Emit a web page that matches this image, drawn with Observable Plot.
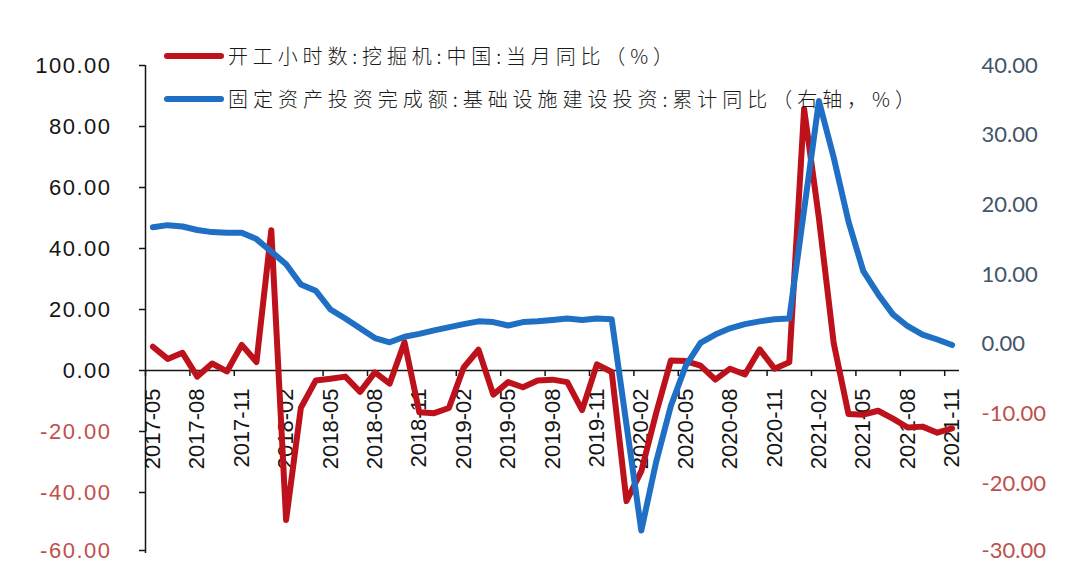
<!DOCTYPE html>
<html><head><meta charset="utf-8">
<script src="https://cdn.jsdelivr.net/npm/d3@7"></script>
<script src="https://cdn.jsdelivr.net/npm/@observablehq/plot@0.6"></script>
<style>
html,body{margin:0;padding:0;background:#fff;}
#wrap{position:relative;width:1080px;height:563px;overflow:hidden;background:#fff;}
</style></head><body>
<div id="wrap"></div>
<script>
const months = ["2017-05","2017-06","2017-07","2017-08","2017-09","2017-10","2017-11","2017-12",
"2018-01","2018-02","2018-03","2018-04","2018-05","2018-06","2018-07","2018-08","2018-09","2018-10","2018-11","2018-12",
"2019-01","2019-02","2019-03","2019-04","2019-05","2019-06","2019-07","2019-08","2019-09","2019-10","2019-11","2019-12",
"2020-01","2020-02","2020-03","2020-04","2020-05","2020-06","2020-07","2020-08","2020-09","2020-10","2020-11","2020-12",
"2021-01","2021-02","2021-03","2021-04","2021-05","2021-06","2021-07","2021-08","2021-09","2021-10","2021-11"];

const tickLabels = ["2017-05","2017-08","2017-11","2018-02","2018-05","2018-08","2018-11","2019-02","2019-05","2019-08",
"2019-11","2020-02","2020-05","2020-08","2020-11","2021-02","2021-05","2021-08","2021-11"];

// 开工小时数:挖掘机:中国:当月同比 (%) — left axis
const excavatorHours = [7.8,3.8,5.8,-2.0,2.3,-0.3,8.4,2.8,
46.0,-49.0,-12.2,-3.3,-2.7,-2.0,-7.0,-0.6,-4.3,9.3,-13.7,-14.0,
-12.3,1.0,6.8,-7.9,-3.8,-5.5,-3.3,-3.0,-3.8,-13.0,2.0,-0.5,
-42.8,-33.0,-14.0,3.3,3.1,1.6,-3.0,0.6,-1.3,6.9,0.6,2.7,
85.8,50.0,9.0,-14.3,-14.5,-13.2,-15.8,-18.7,-18.4,-20.4,-19.0];

// 固定资产投资完成额:基础设施建设投资:累计同比 (右轴, %) — January not published
const infraInvest = [16.8,17.1,16.9,16.4,16.1,16.0,16.0,15.1,
null,11.5,8.6,7.7,5.0,3.7,2.3,0.9,0.3,1.1,1.5,2.0,
null,2.9,3.3,3.2,2.7,3.2,3.3,3.5,3.7,3.5,3.7,3.6,
null,-26.7,-16.9,-8.8,-3.1,0.2,1.4,2.3,2.9,3.3,3.6,3.7,
null,34.9,26.8,17.6,10.5,7.2,4.3,2.6,1.4,0.7,-0.1];

const leftTicks = [-60,-40,-20,0,20,40,60,80,100];
const rightTicks = [-30,-20,-10,0,10,20,30,40];
const legendLabels = ["开工小时数:挖掘机:中国:当月同比（%）","固定资产投资完成额:基础设施建设投资:累计同比（右轴，%）"];

const RED = "#bd121c", BLUE = "#1f6fc4", NEG = "#c0504d", INK = "#151515";
const toLeft = d3.scaleLinear([-30, 40], [-60, 100]);
const rows = months.map((m, i) => ({i, month: m, red: excavatorHours[i], blue: infraInvest[i]}));
const blueRows = rows.filter(d => d.blue != null);
const tickRows = tickLabels.map(t => ({i: months.indexOf(t), label: t}));
const fmtRight = d => (Math.round(toLeft.invert(d) * 100) / 100).toFixed(2);
const leftMin = leftTicks[0], rightMin = rightTicks[0];

const leftOpts = {anchor: "left", tickSize: 6, tickPadding: 28, tickFormat: d => d.toFixed(2),
  fontSize: 22, stroke: INK, strokeWidth: 1.5, label: null};
const rightOpts = {anchor: "right", tickSize: 0, tickPadding: 22, tickFormat: fmtRight,
  fontSize: 22, fontFamily: "Lato, 'Open Sans', sans-serif", label: null};

const plot = Plot.plot({
  width: 1080, height: 563,
  marginLeft: 145, marginRight: 121, marginTop: 65, marginBottom: 10,
  style: {fontFamily: "'Liberation Sans', Arial, sans-serif", background: "#fff", overflow: "visible"},
  x: {domain: [-0.5, months.length - 0.5], axis: null},
  y: {domain: [-60, 100], axis: null},
  marks: [
    Plot.axisY(leftTicks.filter(v => v >= 0), {...leftOpts, fill: INK}),
    Plot.axisY(leftTicks.filter(v => v < 0 && v > leftMin), {...leftOpts, fill: NEG}),
    Plot.axisY([leftMin], {...leftOpts, fill: NEG, dy: -3}),
    Plot.axisY(rightTicks.filter(v => v >= 0).map(toLeft), {...rightOpts, fill: "#44546a"}),
    Plot.axisY(rightTicks.filter(v => v < 0 && v > rightMin).map(toLeft), {...rightOpts, fill: NEG}),
    Plot.axisY([toLeft(rightMin)], {...rightOpts, fill: NEG, dy: -3}),
    Plot.ruleX([-0.5], {stroke: INK, strokeWidth: 1.5}),
    Plot.text(tickRows, {x: "i", y: 0, text: "label", rotate: -90, textAnchor: "end", dy: 18, fontSize: 22, fill: INK}),
    Plot.ruleX(tickRows, {x: d => d.i - 0.5, y1: 0, y2: 0, insetBottom: -6, stroke: INK, strokeWidth: 1.5}),
    Plot.ruleY([0], {stroke: INK, strokeWidth: 1.5}),
    Plot.line(rows, {x: "i", y: "red", stroke: RED, strokeWidth: 6, strokeLinejoin: "round", strokeLinecap: "round"}),
    Plot.line(blueRows, {x: "i", y: d => toLeft(d.blue), stroke: BLUE, strokeWidth: 6, strokeLinejoin: "round", strokeLinecap: "round"})
  ]
});
const wrap = document.getElementById("wrap");
wrap.appendChild(plot);
plot.querySelectorAll('g[aria-label="y-axis tick label"]').forEach(g => {
  if (g.getAttribute("text-anchor") === "end") g.style.letterSpacing = "1.5px";
});

const leg = d3.create("svg").attr("width", 1080).attr("height", 130)
  .style("position", "absolute").style("left", "0px").style("top", "0px");
[[RED, 56, 445], [BLUE, 99, 687]].forEach(([c, y, w], k) => {
  leg.append("line").attr("x1", 167).attr("x2", 221).attr("y1", y).attr("y2", y)
    .attr("stroke", c).attr("stroke-width", 6).attr("stroke-linecap", "round");
  leg.append("text").attr("x", 228).attr("y", y + 1).attr("dy", "0.37em")
    .attr("textLength", w).attr("lengthAdjust", "spacing")
    .style("font-family", "'Noto Sans CJK SC', sans-serif").style("font-size", "20px")
    .style("font-weight", "300").attr("fill", "#1a1a1a").text(legendLabels[k]);
});
wrap.appendChild(leg.node());
</script>
</body></html>
